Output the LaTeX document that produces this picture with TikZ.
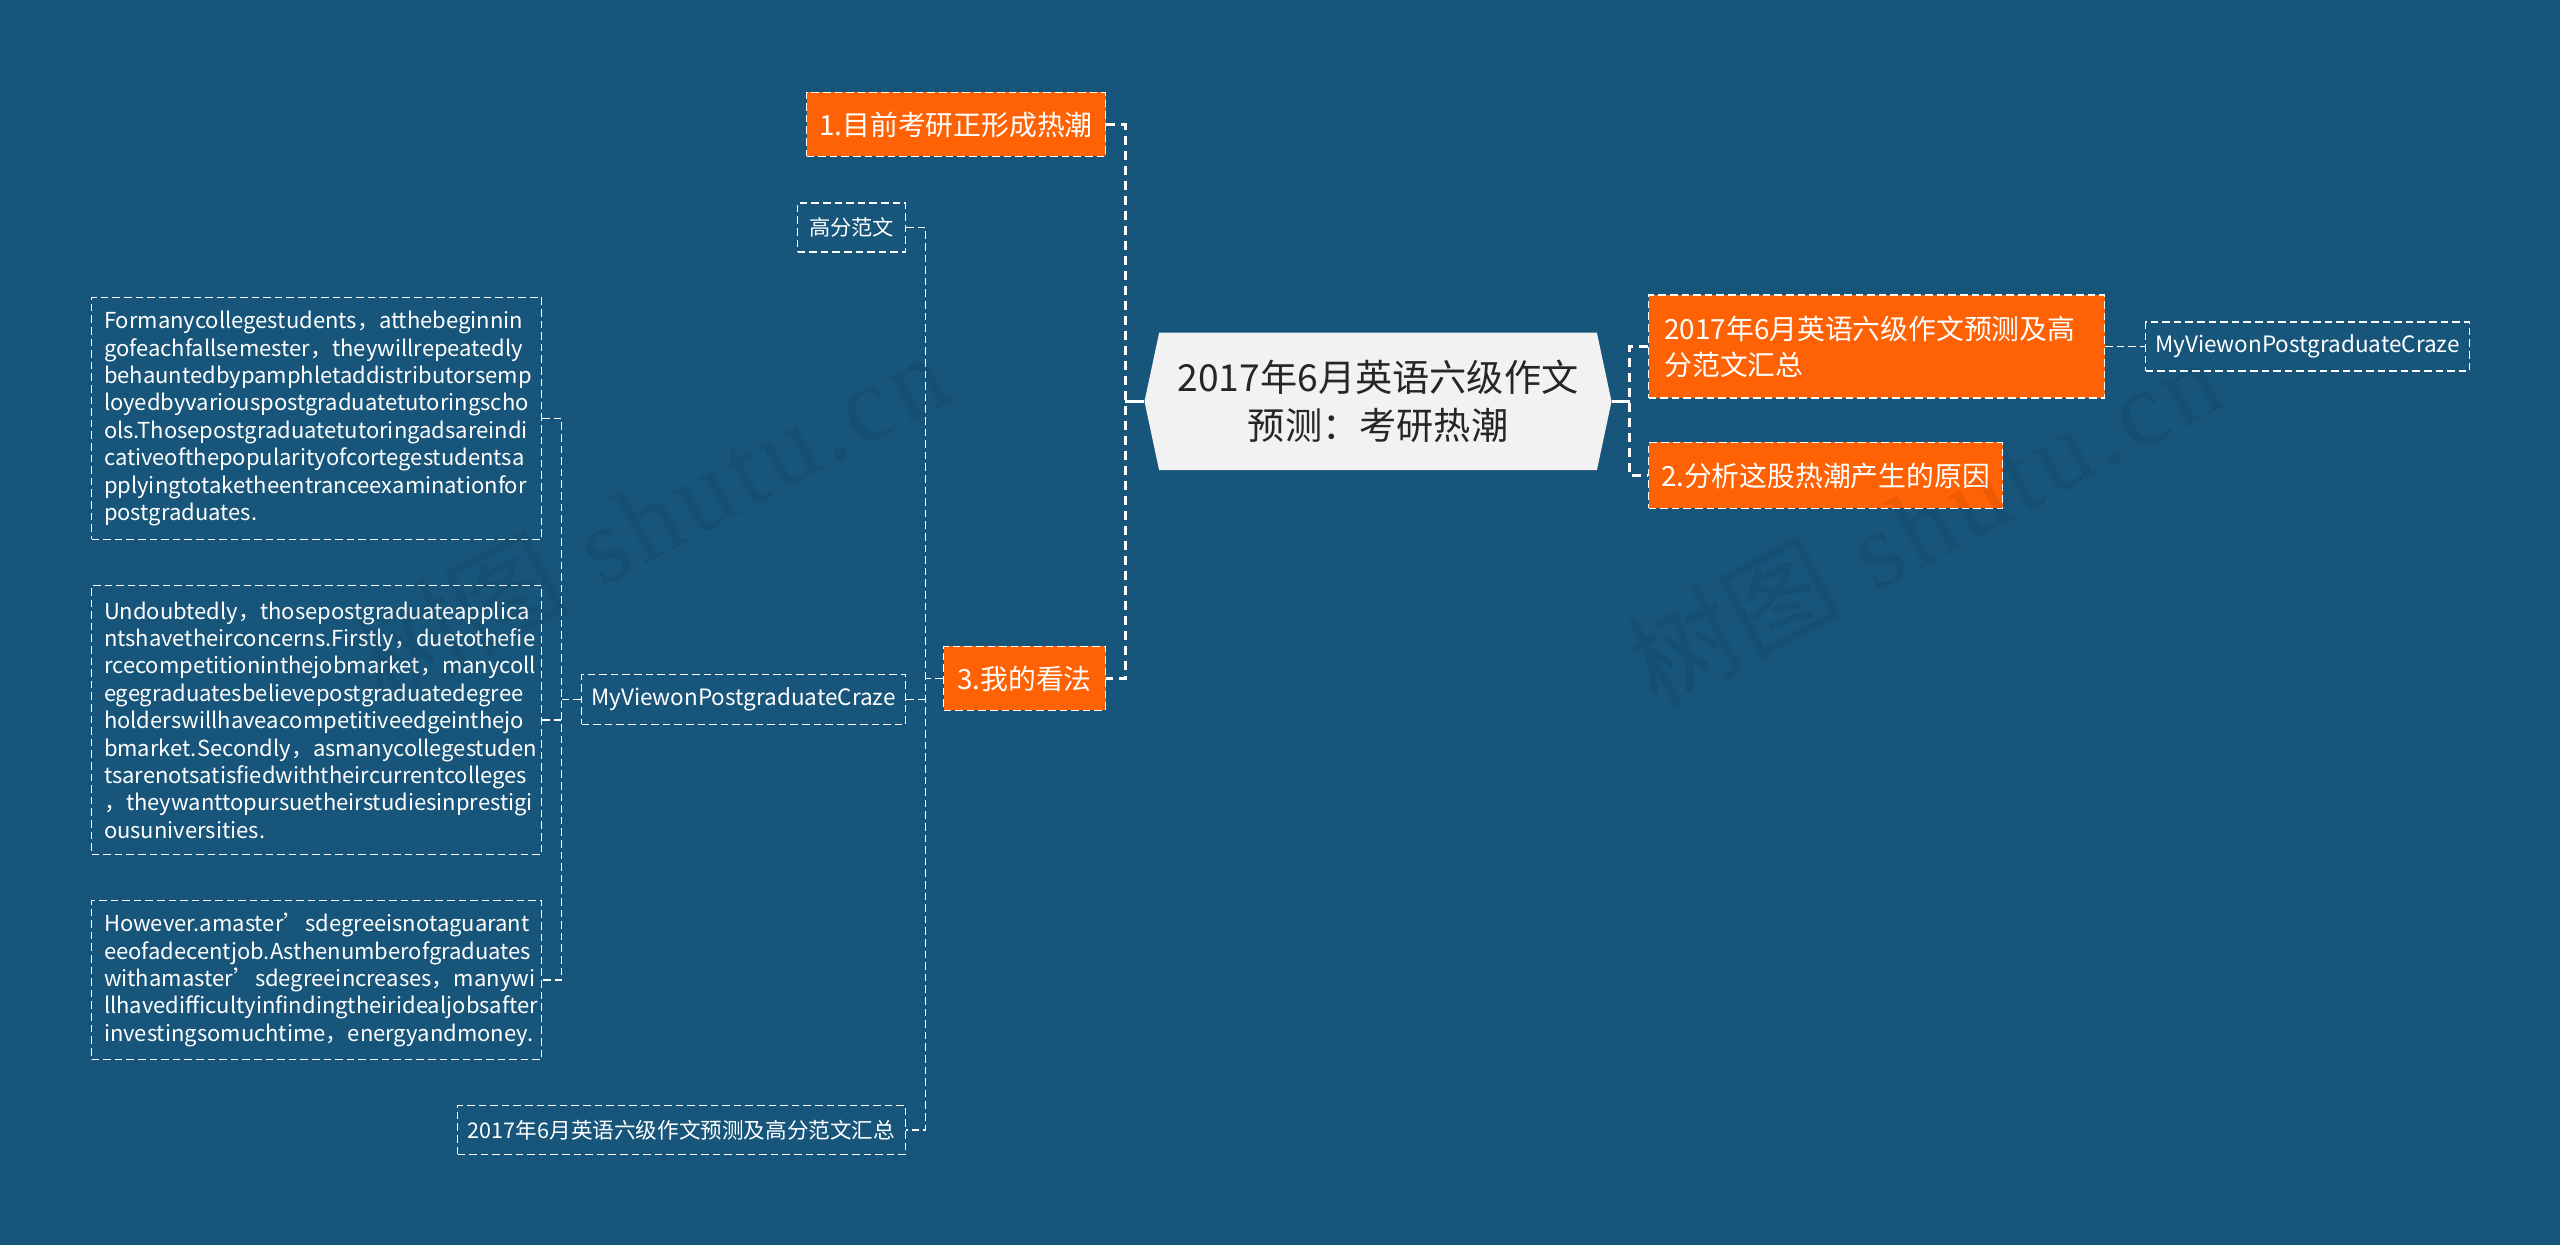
\documentclass[tikz,border=0pt]{standalone}
\usepackage{fontspec}
\setmainfont{Noto Sans CJK SC}
\newfontfamily\markfont[LetterSpace=5]{Liberation Serif}
\usetikzlibrary{shapes.symbols}
\definecolor{pagebg}{HTML}{17557B}
\definecolor{orangebox}{HTML}{FF6105}
\definecolor{rootbg}{HTML}{F2F2F2}
\tikzset{
    thinborder/.style={draw=white, line width=0.75pt, dash pattern=on 3.8pt off 2pt},
    leafbox/.style={thinborder, inner sep=0pt, text=white, font=\fontsize{11}{13.7}\selectfont},
    topicbox/.style={thinborder, fill=orangebox, inner sep=0pt, text=white, font=\fontsize{13.9}{18}\selectfont},
    thicklink/.style={draw=white, line width=1.5pt, dash pattern=on 4.5pt off 3pt},
    thinlink/.style={draw=white, line width=0.75pt, dash pattern=on 3.8pt off 2pt},
    watermark/.style={text=black, opacity=0.07, rotate=28, font=\fontsize{54}{54}\selectfont}
}
\begin{document}
\begin{tikzpicture}[x=0.5pt,y=-0.5pt]
    \useasboundingbox[fill=pagebg] (-0.5,-1.5) rectangle (2559.5,1243.5);

    \node[signal, signal to=west and east, signal pointer angle=156, fill=rootbg, inner sep=0pt,
          minimum width=233.5pt, minimum height=68.75pt, align=center, text=black!85,
          font=\fontsize{18.6}{24}\selectfont] (root) at (1377.5,400) {2017年6月英语六级作文\\预测：考研热潮};

    % right side
    \node[topicbox, minimum width=228pt, minimum height=51.5pt, text width=212pt, align=left] (rone) at (1876,345) {2017年6月英语六级作文预测及高\\分范文汇总};
    \node[topicbox, minimum width=177pt, minimum height=33pt] (rtwo) at (1825,474) {2.分析这股热潮产生的原因};
    \node[leafbox, font=\fontsize{11.25}{13.7}\selectfont, minimum width=162pt, minimum height=24.5pt] (rview) at (2307,345) {MyViewonPostgraduateCraze};

    % left side
    \node[topicbox, minimum width=149.5pt, minimum height=32pt] (lone) at (955.5,123) {1.目前考研正形成热潮};
    \node[topicbox, minimum width=81pt, minimum height=32pt] (lthree) at (1024,677) {3.我的看法};
    \node[leafbox, font=\fontsize{10.6}{13.7}\selectfont, minimum width=54pt, minimum height=24.5pt] (lessay) at (851,226) {高分范文};
    \node[leafbox, font=\fontsize{11.25}{13.7}\selectfont, minimum width=162pt, minimum height=25pt] (lview) at (743,698) {MyViewonPostgraduateCraze};
    \node[leafbox, font=\fontsize{10.8}{13.7}\selectfont, minimum width=224pt, minimum height=24.5pt] (lsum) at (681,1128.5) {2017年6月英语六级作文预测及高分范文汇总};

    \node[leafbox, minimum width=225pt, minimum height=121pt, text width=212.5pt, align=left] (para) at (316,417) {Formanycollegestudents，atthebeginnin\\gofeachfallsemester，theywillrepeatedly\\behauntedbypamphletaddistributorsemp\\loyedbyvariouspostgraduatetutoringscho\\ols.Thosepostgraduatetutoringadsareindi\\cativeofthepopularityofcortegestudentsa\\pplyingtotaketheentranceexaminationfor\\postgraduates.};
    \node[leafbox, minimum width=225pt, minimum height=134.5pt, text width=212.5pt, align=left] (parb) at (316,718.5) {Undoubtedly，thosepostgraduateapplica\\ntshavetheirconcerns.Firstly，duetothefie\\rcecompetitioninthejobmarket，manycoll\\egegraduatesbelievepostgraduatedegree\\holderswillhaveacompetitiveedgeinthejo\\bmarket.Secondly，asmanycollegestuden\\tsarenotsatisfiedwiththeircurrentcolleges\\，theywanttopursuetheirstudiesinprestigi\\ousuniversities.};
    \node[leafbox, minimum width=225pt, minimum height=79.5pt, text width=212.5pt, align=left] (parc) at (316,978.5) {However.amaster’sdegreeisnotaguarant\\eeofadecentjob.Asthenumberofgraduates\\withamaster’sdegreeincreases，manywi\\llhavedifficultyinfindingtheiridealjobsafter\\investingsomuchtime，energyandmoney.};

    \coordinate (rtrunk) at (1629,400);
    \coordinate (ltrunk) at (1124.5,400);
    \coordinate (lbranch) at (925,677);
    \coordinate (pbranch) at (561,698);

    \draw[draw=white, line width=1.5pt] (root.west) -- (ltrunk);
    \draw[draw=white, line width=1.5pt] (root.east) -- (rtrunk);
    \draw[thicklink] (rone.west) -- (rone.west -| rtrunk) -- (rtwo.west -| rtrunk) -- (rtwo.west);
    \draw[thicklink] (lone.east) -- (lone.east -| ltrunk) -- (lthree.east -| ltrunk) -- (lthree.east);

    \draw[thinlink] (rone.east) -- (rview.west);
    \draw[thinlink] (lthree.west) -- (lbranch);
    \draw[thinlink] (lessay.east) -- (lessay.east -| lbranch) -- (lsum.east -| lbranch) -- (lsum.east);
    \draw[thinlink] (lview.east) -- (lview.east -| lbranch);
    \draw[thinlink] (lview.west) -- (pbranch);
    \draw[thinlink] (para.east) -- (para.east -| pbranch) -- (parc.east -| pbranch) -- (parc.east);
    \draw[thinlink] (parb.east) -- (parb.east -| pbranch);

    % faint marks over everything
    \node[watermark] (marka) at (649,514) {树图\hspace{0.3em}{\markfont shutu.cn}};
    \node[watermark] (markb) at (1923,519) {树图\hspace{0.3em}{\markfont shutu.cn}};
\end{tikzpicture}
\end{document}
